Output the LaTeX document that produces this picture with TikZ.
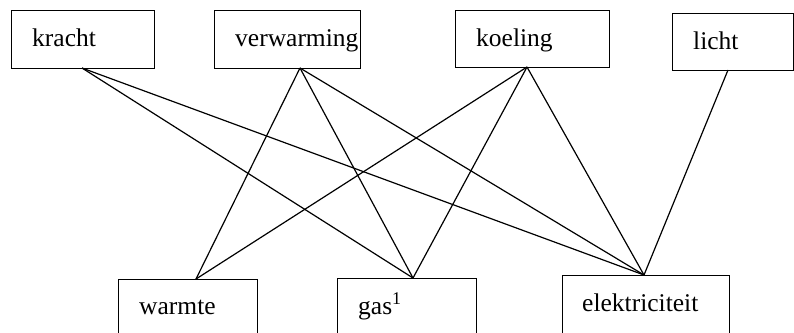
\documentclass[tikz,border=0pt]{standalone}
\usepackage{fontspec}
\setmainfont{Liberation Serif}
\begin{document}
\begin{tikzpicture}[x=1pt,y=-1pt,
  box/.style={draw,line width=1.2pt,rectangle,inner sep=0pt,anchor=north west},
  word/.style={anchor=base west,inner sep=0pt,font=\fontsize{25.5}{30}\selectfont},
  link/.style={line width=1.2pt}]
\useasboundingbox (0,0) rectangle (794,332);
\clip (0,0) rectangle (794,332);
% upper row
\node[box,minimum width=143pt,minimum height=58pt] (kracht) at (11,10) {};
\node[box,minimum width=146pt,minimum height=58pt] (verwarming) at (214,10) {};
\node[box,minimum width=154pt,minimum height=57pt] (koeling) at (455,10) {};
\node[box,minimum width=121pt,minimum height=57pt] (licht) at (672,13) {};
\node[word] (tk) at (32,46) {kracht};
\node[word] (tv) at (235,46) {verwarming};
\node[word] (tko) at (476,46) {koeling};
\node[word] (tl) at (693,49) {licht};
% lower row (boxes run past the lower edge)
\node[box,minimum width=139pt,minimum height=70pt] (warmte) at (118,279) {};
\node[box,minimum width=139pt,minimum height=70pt] (gas) at (337,278) {};
\node[box,minimum width=167pt,minimum height=70pt] (elek) at (562,275) {};
\node[word] (tw) at (139,314) {warmte};
\node[word] (tg) at (358,314) {gas\textsuperscript{1}};
\node[word] (te) at (582,311) {elektriciteit};
% connection points
\coordinate (pk) at (82,68);
\coordinate (pv) at (300,68);
\coordinate (pko) at (527,67);
\coordinate (pl) at (728,70);
\coordinate (pw) at (196,279);
\coordinate (pg) at (413,278);
\coordinate (pe) at (644,275);
% connectors
\draw[link] (pk) -- (pg);
\draw[link] (pk) -- (pe);
\draw[link] (pv) -- (pw);
\draw[link] (pv) -- (pg);
\draw[link] (pv) -- (pe);
\draw[link] (pko) -- (pw);
\draw[link] (pko) -- (pg);
\draw[link] (pko) -- (pe);
\draw[link] (pl) -- (pe);
\end{tikzpicture}
\end{document}
